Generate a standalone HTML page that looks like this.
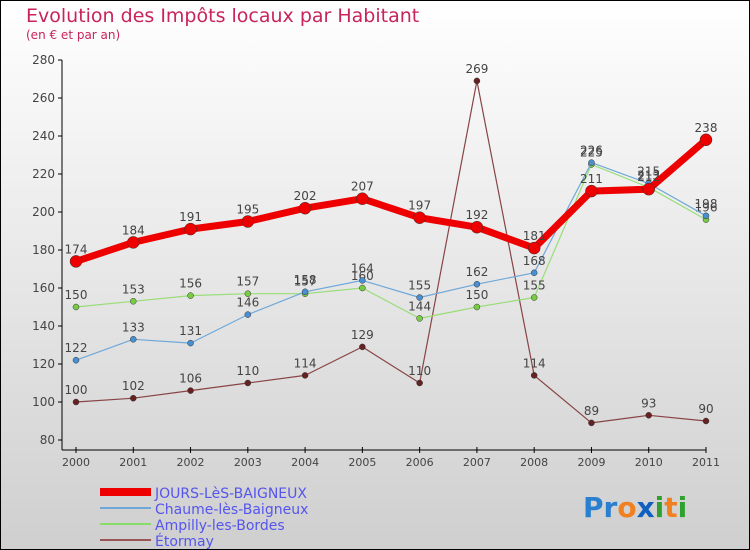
<!DOCTYPE html>
<html><head><meta charset="utf-8"><style>
body{margin:0}
#c{width:750px;height:550px;position:relative;overflow:hidden;font-family:"DejaVu Sans","Liberation Sans",sans-serif}
</style></head><body>
<div id="c">
<svg id="s" width="750" height="550" xmlns="http://www.w3.org/2000/svg">
<defs><linearGradient id="bg" x1="0" y1="0" x2="0" y2="1"><stop offset="0" stop-color="#ffffff"/><stop offset="1" stop-color="#cfcfcf"/></linearGradient></defs>
<rect x="0.5" y="0.5" width="749" height="549" fill="url(#bg)" stroke="#000"/>
<text x="26" y="22" font-size="19" fill="#c8245a">Evolution des Impôts locaux par Habitant</text>
<text x="26" y="39" font-size="12" fill="#c8245a">(en € et par an)</text>
<g id="axes"></g><g id="series"></g>
<g>
<rect x="100" y="488" width="51" height="8" fill="#e00"/>
<text x="155" y="498" font-size="14" fill="#5555ee">JOURS-LèS-BAIGNEUX</text>
<rect x="100" y="507" width="51" height="2" fill="#6fa8d8"/>
<text x="155" y="514" font-size="14" fill="#5555ee">Chaume-lès-Baigneux</text>
<rect x="100" y="523" width="51" height="2" fill="#88dd66"/>
<text x="155" y="530" font-size="14" fill="#5555ee">Ampilly-les-Bordes</text>
<rect x="100" y="539" width="51" height="2" fill="#995555"/>
<text x="155" y="546" font-size="14" fill="#5555ee">Étormay</text>
</g>
<g font-size="28" font-weight="bold">
<text x="583" y="517"><tspan fill="#2a7fd0">Pr</tspan><tspan fill="#f08020">o</tspan><tspan fill="#1060c0">x</tspan><tspan fill="#30a030">i</tspan><tspan fill="#f08020">t</tspan><tspan fill="#30a030">i</tspan></text>
</g>
</svg>
</div>
<script>
const years=["2000","2001","2002","2003","2004","2005","2006","2007","2008","2009","2010","2011"];
const yTicks=[80,100,120,140,160,180,200,220,240,260,280];
const jours=[174,184,191,195,202,207,197,192,181,211,212,238];
const chaume=[122,133,131,146,158,164,155,162,168,226,215,198];
const ampilly=[150,153,156,157,157,160,144,150,155,225,213,196];
const etormay=[100,102,106,110,114,129,110,269,114,89,93,90];
const NS="http://www.w3.org/2000/svg";
const xS=i=>76+i*(706-76)/11;
const yS=v=>440-(v-80)*1.9;
function el(t,a,p){const e=document.createElementNS(NS,t);for(const k in a)e.setAttribute(k,a[k]);p.appendChild(e);return e;}
const ax=document.getElementById('axes');
const ya=el('line',{x1:62,y1:60,x2:62,y2:450,stroke:'#000'},ax);


const xa=el('line',{x1:62,y1:450,x2:706,y2:450,stroke:'#000'},ax);


yTicks.forEach(v=>{el('line',{x1:58,x2:62,y1:yS(v),y2:yS(v),stroke:'#000'},ax);
const t=el('text',{x:55,y:yS(v)+4,'font-size':12,fill:'#444','text-anchor':'end'},ax);t.textContent=v;

});
years.forEach((y,i)=>{el('line',{x1:xS(i),x2:xS(i),y1:447,y2:453,stroke:'#000'},ax);
const t=el('text',{x:xS(i),y:466,'font-size':11,fill:'#444','text-anchor':'middle'},ax);t.textContent=y;

});
const sg=document.getElementById('series');
function draw(name,data,color,w,r,dot){
const g=el('g',{},sg);


const p=el('polyline',{points:data.map((v,i)=>xS(i)+','+yS(v)).join(' '),fill:'none',stroke:color,'stroke-width':w,'stroke-linejoin':'round'},g);


data.forEach((v,i)=>{const c=el('circle',{cx:xS(i),cy:yS(v),r:r,fill:dot,stroke:'#333','stroke-width':0.5},g);


const t=el('text',{x:xS(i),y:yS(v)-8,'font-size':12,fill:'#444','text-anchor':'middle'},g);t.textContent=v;

});}
draw('etormay',etormay,'#884444',1.2,3,'#662222');
draw('ampilly',ampilly,'#99dd77',1.2,3,'#77cc44');
draw('chaume',chaume,'#6fa8d8',1.2,3,'#4a90d0');
draw('jours',jours,'#ee0000',7,6,'#ee0000');
</script>
</body></html>
